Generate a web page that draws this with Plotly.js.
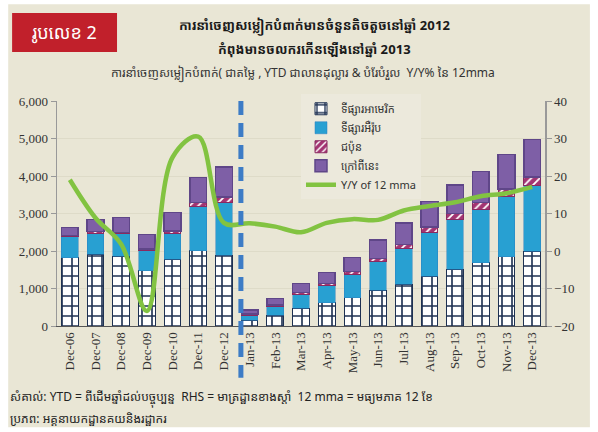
<!DOCTYPE html>
<html>
<head>
<meta charset="utf-8">
<script src="https://cdn.plot.ly/plotly-3.0.1.min.js"></script>
<style>
html,body{margin:0;padding:0;background:#ffffff;}
#chart{width:598px;height:432px;}
</style>
</head>
<body>
<div id="chart"></div>
<script>
// Categories (x-axis tick labels)
const categories = ["Dec-06","Dec-07","Dec-08","Dec-09","Dec-10","Dec-11","Dec-12",
  "Jan-13","Feb-13","Mar-13","Apr-13","May-13","Jun-13","Jul-13","Aug-13","Sep-13","Oct-13","Nov-13","Dec-13"];

// Garment exports, YTD, million USD (left axis)
const usMarket    = [1820,1920,1865,1475,1780,2010,1890, 160, 290, 470, 620, 750, 960,1110,1330,1510,1690,1850,2000];
const euMarket    = [ 560, 555, 595, 540, 700,1170,1415, 125, 225, 375, 455, 630, 755, 960,1155,1335,1420,1600,1760];
const japan       = [  35,  40,  40,  40,  50, 110, 140,  35,  45,  55,  65,  75,  90, 105, 160, 160, 190, 200, 220];
const otherMkts   = [ 210, 330, 390, 390, 500, 675, 800, 107, 180, 240, 285, 375, 490, 575, 670, 755, 815, 925, 995];

// Y/Y % of 12-month moving average (right axis)
const yoy12mma    = [19, 8.8, 1.8, -16, 25, 30.5, 7.5, 7.4, 6.5, 5, 7.5, 8.5, 8.3, 10.8, 12, 13, 14.6, 15.4, 17.1];

// Text
const legendNames = ["ទីផ្សារអាមេរិក","ទីផ្សារអឺរ៉ុប","ជប៉ុន","ក្រៅពីនេះ","Y/Y of 12 mma"];
const figLabel = "រូបលេខ 2";
const titleLine1 = "ការនាំចេញសម្លៀកបំពាក់មានចំនួនតិចតួចនៅឆ្នាំ 2012";
const titleLine2 = "កំពុងមានចលករកើនឡើងនៅឆ្នាំ 2013";
const subtitle = "ការនាំចេញសម្លៀកបំពាក់( ជាតម្លៃ , YTD ជាលានដុល្លារ & បំរែបំរួល  Y/Y% នៃ 12mma";
const note1 = "សំគាល់: YTD = ពីដើមឆ្នាំដល់បច្ចុប្បន្ន  RHS = មាត្រដ្ឋានខាងស្តាំ  12 mma = មធ្យមភាគ 12 ខែ";
const note2 = "ប្រភព: អគ្គនាយកដ្ឋានគយនិងរដ្ឋាករ";

const serif = "Liberation Serif";
const sans = "Noto Sans Khmer, Noto Sans, DejaVu Sans, sans-serif";

const traces = [
  {type:"bar", name:legendNames[0], x:categories, y:usMarket,
   marker:{color:"#ffffff", line:{color:"#1e3152", width:1},
     pattern:{shape:"+", fgcolor:"#1e3152", bgcolor:"#ffffff", size:10, solidity:0.3}}},
  {type:"bar", name:legendNames[1], x:categories, y:euMarket,
   marker:{color:"#28a0d2", line:{color:"#2a7fc0", width:0.5}}},
  {type:"bar", name:legendNames[2], x:categories, y:japan,
   marker:{color:"#a33472", line:{color:"#8a2a60", width:1},
     pattern:{shape:"/", fgcolor:"#ffffff", bgcolor:"#a33472", size:6, solidity:0.3}}},
  {type:"bar", name:legendNames[3], x:categories, y:otherMkts,
   marker:{color:"#7e5fa6", line:{color:"#5f4688", width:1.5}}},
  {type:"scatter", mode:"lines", name:legendNames[4], x:categories, y:yoy12mma, yaxis:"y2",
   line:{color:"#82c341", width:4.5, shape:"spline", smoothing:1}}
];

const layout = {
  width:598, height:432,
  paper_bgcolor:"#ffffff",
  plot_bgcolor:"rgba(0,0,0,0)",
  margin:{l:57, r:53, t:101, b:106},
  barmode:"stack", bargap:0.35,
  showlegend:true,
  legend:{x:0.5, y:1.03, xanchor:"left", yanchor:"top", traceorder:"normal",
    bgcolor:"#ecE9dc", font:{family:sans, size:11, color:"#333"}, tracegroupgap:0},
  xaxis:{type:"category", tickangle:-90, tickfont:{family:serif, size:13, color:"#333"},
    showline:true, linecolor:"#555", linewidth:1, ticks:"", showgrid:false},
  yaxis:{range:[0,6000], dtick:1000, tickformat:",d", tickfont:{family:serif, size:13, color:"#333"},
    showline:true, linecolor:"#999", linewidth:1.5, ticks:"outside", ticklen:5, tickcolor:"#999",
    showgrid:true, gridcolor:"#dedbc8", gridwidth:1, zeroline:false},
  yaxis2:{overlaying:"y", side:"right", range:[-20,40], dtick:10, tickfont:{family:serif, size:13, color:"#333"},
    showline:true, linecolor:"#999", linewidth:1.5, ticks:"outside", ticklen:5, tickcolor:"#999",
    showgrid:false, zeroline:false},
  shapes:[
    {type:"rect", xref:"paper", yref:"paper", x0:-0.1, x1:1.092, y0:-0.45, y1:1.43,
     fillcolor:"#e9e6d5", line:{width:0}, layer:"below"},
    {type:"rect", xref:"paper", yref:"paper", x0:-0.092, x1:0.123, y0:1.218, y1:1.391,
     fillcolor:"#c1202b", line:{width:0}, layer:"below"},
    {type:"line", xref:"x", yref:"paper", x0:6.66, x1:6.66, y0:1.0, y1:-0.23,
     line:{color:"#3d7cc6", width:5, dash:"14px,8px"}, layer:"above"}
  ],
  annotations:[
    {xref:"paper", yref:"paper", x:0.015, y:1.305, text:figLabel, showarrow:false,
     font:{family:sans, size:18, color:"#ffffff"}, xanchor:"center", yanchor:"middle"},
    {xref:"paper", yref:"paper", x:0.527, y:1.335, text:"<b>"+titleLine1+"</b>", showarrow:false,
     font:{family:sans, size:13, color:"#1a1a1a"}, xanchor:"center", yanchor:"middle"},
    {xref:"paper", yref:"paper", x:0.527, y:1.23, text:"<b>"+titleLine2+"</b>", showarrow:false,
     font:{family:sans, size:13, color:"#1a1a1a"}, xanchor:"center", yanchor:"middle"},
    {xref:"paper", yref:"paper", x:0.504, y:1.12, text:subtitle, showarrow:false,
     font:{family:sans, size:12, color:"#333"}, xanchor:"center", yanchor:"middle"},
    {xref:"paper", yref:"paper", x:-0.1, y:-0.322, text:note1, showarrow:false,
     font:{family:sans, size:12, color:"#222"}, xanchor:"left", yanchor:"middle"},
    {xref:"paper", yref:"paper", x:-0.1, y:-0.41, text:note2, showarrow:false,
     font:{family:sans, size:12, color:"#222"}, xanchor:"left", yanchor:"middle"}
  ]
};

Plotly.newPlot("chart", traces, layout, {displayModeBar:false, staticPlot:true});
</script>
</body>
</html>
